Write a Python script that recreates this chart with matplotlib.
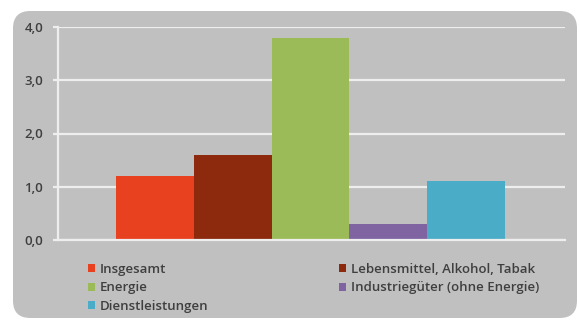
import matplotlib.pyplot as plt
from matplotlib.patches import FancyBboxPatch, Patch

# Veränderung gegenüber Vorjahr in %
kategorien = ["Insgesamt", "Lebensmittel, Alkohol, Tabak", "Energie",
              "Industriegüter (ohne Energie)", "Dienstleistungen"]
werte = [1.2, 1.6, 3.8, 0.3, 1.1]
farben = ["#e8411f", "#8d2a0e", "#9bbb59", "#8064a2", "#4aacc6"]
yticks = [0.0, 1.0, 2.0, 3.0, 4.0]
ytick_labels = ["0,0", "1,0", "2,0", "3,0", "4,0"]

text_color = "#3f3f3f"
plt.rcParams["font.family"] = ["Open Sans", "DejaVu Sans"]

W, H = 579, 324
fig = plt.figure(figsize=(W / 100, H / 100), dpi=100)
fig.patch.set_facecolor("white")

# grauer Hintergrund mit abgerundeten Ecken
panel = FancyBboxPatch((13 / W, 6 / H), 564 / W, 307 / H,
                       boxstyle="round,pad=0,rounding_size=0.03",
                       transform=fig.transFigure, facecolor="#c0c0c0",
                       edgecolor="none", mutation_aspect=W / H, zorder=-5)
fig.patches.append(panel)

ax = fig.add_axes([58 / W, (H - 240) / H, (565 - 58) / W, (240 - 27) / H])
ax.set_facecolor("none")

x = range(len(werte))
ax.bar(x, werte, width=1.0, color=farben, zorder=3)

ax.set_xlim(-1.245, 5.27)
ax.set_ylim(0, 4.0)
ax.set_yticks(yticks)
ax.set_yticklabels(ytick_labels, fontsize=9.5, fontweight="semibold", color=text_color)
ax.set_xticks([])
ax.grid(axis="y", color="#eeeeee", linewidth=1.6, zorder=0)
ax.tick_params(axis="y", length=3.6, width=1.6, color="#eeeeee", pad=7)

for side in ["top", "right"]:
    ax.spines[side].set_visible(False)
for side in ["left", "bottom"]:
    ax.spines[side].set_color("#eeeeee")
    ax.spines[side].set_linewidth(1.6)
ax.spines["bottom"].set_zorder(4)

# Legende: zeilenweise Anordnung mit zwei Spalten
reihenfolge = [0, 2, 4, 1, 3]
handles = [Patch(facecolor=farben[i], edgecolor="none") for i in reihenfolge]
labels = [kategorien[i] for i in reihenfolge]
fig.legend(handles, labels, loc="upper left", bbox_to_anchor=(76 / W, (H - 251) / H),
           ncol=2, frameon=False, handlelength=0.55, handleheight=0.55,
           handletextpad=0.35, labelspacing=0.42, columnspacing=9.9,
           prop={"weight": "semibold", "size": 9.5}, labelcolor=text_color)

fig.savefig("out.png", dpi=100, facecolor=fig.get_facecolor())
